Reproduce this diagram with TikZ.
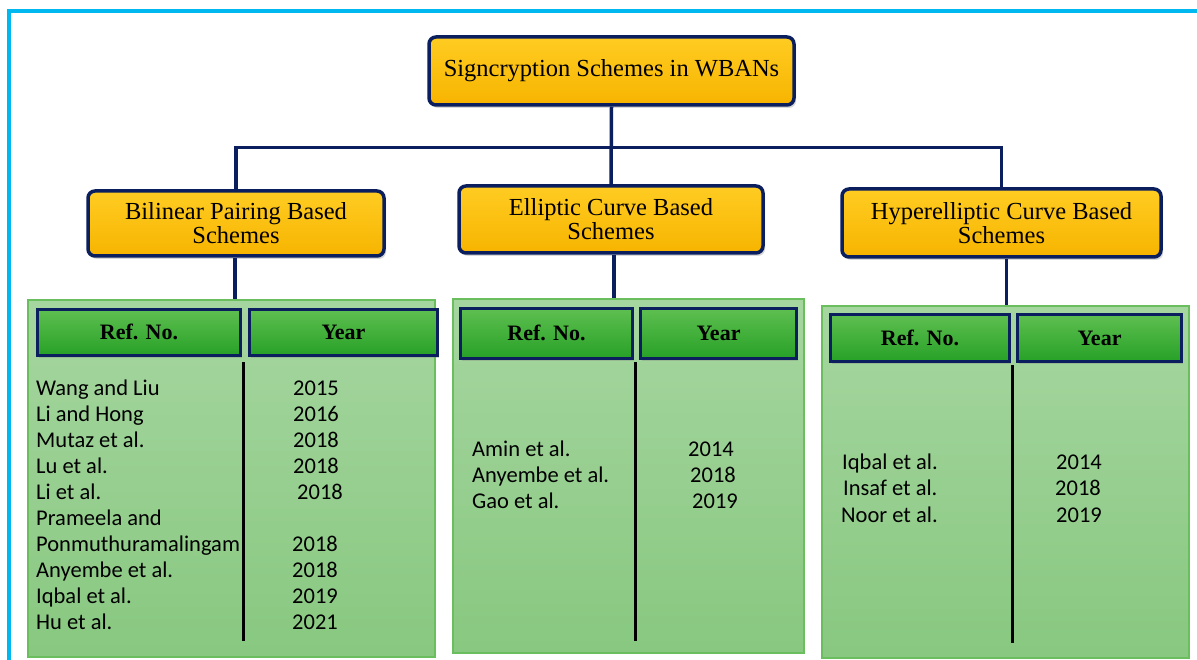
\documentclass[tikz,border=0pt]{standalone}
\usepackage{fontspec}
\setmainfont{Liberation Serif}
\newfontfamily\calfont{Carlito}
\usetikzlibrary{shadows,calc}
\definecolor{navy}{HTML}{0B1F5E}
\definecolor{goldtop}{HTML}{FFCC22}
\definecolor{goldbot}{HTML}{F7B400}
\definecolor{paneltop}{HTML}{A6D6A0}
\definecolor{panelbot}{HTML}{88C880}
\definecolor{panelline}{HTML}{6BBE5E}
\definecolor{hdrtop}{HTML}{5EBF50}
\definecolor{hdrbot}{HTML}{27A127}
\definecolor{framecyan}{HTML}{00B8F0}
\tikzset{
  titlebox/.style={draw=navy, line width=3.5pt, rounded corners=7pt,
    top color=goldtop, bottom color=goldbot, align=center, inner sep=0pt,
    font=\fontsize{24.5}{24}\selectfont,
    drop shadow={shadow xshift=2pt, shadow yshift=-3pt, opacity=0.3}},
  conn/.style={draw=navy, line width=3.5pt},
  panel/.style={draw=panelline, line width=1.5pt, top color=paneltop,
    bottom color=panelbot, inner sep=0pt},
  hdr/.style={draw=navy, line width=3pt, top color=hdrtop, bottom color=hdrbot,
    inner sep=0pt, font=\fontsize{22}{22}\bfseries\selectfont,
    text height=14.6pt, text depth=0pt,
    drop shadow={shadow xshift=1.5pt, shadow yshift=-2.5pt, opacity=0.3}},
  divider/.style={draw=black, line width=3pt},
  row/.style={inner sep=0pt, anchor=base west, font=\calfont\fontsize{22.5}{26}\selectfont}
}
\begin{document}
\begin{tikzpicture}[x=1pt,y=-1pt]
\useasboundingbox (0,0) rectangle (1197,660);
\fill[white] (0,0) rectangle (1197,660);
% frame
\draw[framecyan, line width=3.5pt] (9,660) -- (9,11.2) -- (1197,11.2);

% title boxes
\node[titlebox, minimum width=365pt, minimum height=68pt] (root) at (611.5,71) {Signcryption Schemes in WBANs};
\node[titlebox, minimum width=296pt, minimum height=65pt] (c1) at (236,223.5) {Bilinear Pairing Based\\Schemes};
\node[titlebox, minimum width=304pt, minimum height=67pt] (c2) at (611,219.5) {Elliptic Curve Based\\Schemes};
\node[titlebox, minimum width=319pt, minimum height=68pt] (c3) at (1001.5,223) {Hyperelliptic Curve Based\\Schemes};

% panels
\node[panel, minimum width=407pt, minimum height=357pt] (p1) at (231.5,478.5) {};
\node[panel, minimum width=351pt, minimum height=354pt] (p2) at (628.5,476) {};
\node[panel, minimum width=367pt, minimum height=352pt] (p3) at (1005.5,482) {};

% connectors
\coordinate (bus) at (611,147.5);
\draw[conn] (root.south) -- (c2.north);
\draw[conn] (c1.north) -- (c1.north |- bus) -- (c3.north |- bus) -- (c3.north);
\draw[conn] ([xshift=-1pt]c1.south) -- ([xshift=-1pt]c1.south |- p1.north);
\draw[conn] ([xshift=3pt]c2.south) -- ([xshift=3pt]c2.south |- p2.north);
\draw[conn] ([xshift=5pt]c3.south) -- ([xshift=5pt]c3.south |- p3.north);

% headers
\node[hdr, minimum width=203pt, minimum height=46pt] (h1a) at (139,332.5) {Ref. No.};
\node[hdr, minimum width=188pt, minimum height=46pt] (h1b) at (343.5,332.5) {Year};
\node[hdr, minimum width=172pt, minimum height=50pt] (h2a) at (546.5,333.5) {Ref. No.};
\node[hdr, minimum width=156pt, minimum height=50pt] (h2b) at (718.5,333.5) {Year};
\node[hdr, minimum width=179pt, minimum height=47pt] (h3a) at (920,338) {Ref. No.};
\node[hdr, minimum width=164pt, minimum height=47pt] (h3b) at (1099.5,338) {Year};

% dividers
\draw[divider] (243,362) -- (243,641);
\draw[divider] (635,362) -- (635,641);
\draw[divider] (1012,365) -- (1012,643);

% panel 1 rows
\node[row] (n1) at (36,395) {Wang and Liu};
\node[row] (n2) at (36,421) {Li and Hong};
\node[row] (n3) at (36,447) {Mutaz et al.};
\node[row] (n4) at (36,473) {Lu et al.};
\node[row] (n5) at (36,499) {Li et al.};
\node[row] (n6) at (36,525) {Prameela and};
\node[row] (n7) at (36,551) {Ponmuthuramalingam};
\node[row] (n8) at (36,577) {Anyembe et al.};
\node[row] (n9) at (36,603) {Iqbal et al.};
\node[row] (n10) at (36,629) {Hu et al.};
\node[row] (y1) at (293,395) {2015};
\node[row] (y2) at (293,421) {2016};
\node[row] (y3) at (293,447) {2018};
\node[row] (y4) at (293,473) {2018};
\node[row] (y5) at (297,499) {2018};
\node[row] (y7) at (292,551) {2018};
\node[row] (y8) at (292,577) {2018};
\node[row] (y9) at (292,603) {2019};
\node[row] (y10) at (292,629) {2021};

% panel 2 rows
\node[row] (m1) at (472,456) {Amin et al.};
\node[row] (m2) at (472,482) {Anyembe et al.};
\node[row] (m3) at (472,508) {Gao et al.};
\node[row] (z1) at (688,456) {2014};
\node[row] (z2) at (690,482) {2018};
\node[row] (z3) at (692,508) {2019};

% panel 3 rows
\node[row] (k1) at (842,469) {Iqbal et al.};
\node[row] (k2) at (843,495) {Insaf et al.};
\node[row] (k3) at (841,522) {Noor et al.};
\node[row] (w1) at (1056,469) {2014};
\node[row] (w2) at (1055,495) {2018};
\node[row] (w3) at (1056,522) {2019};
\end{tikzpicture}
\end{document}
